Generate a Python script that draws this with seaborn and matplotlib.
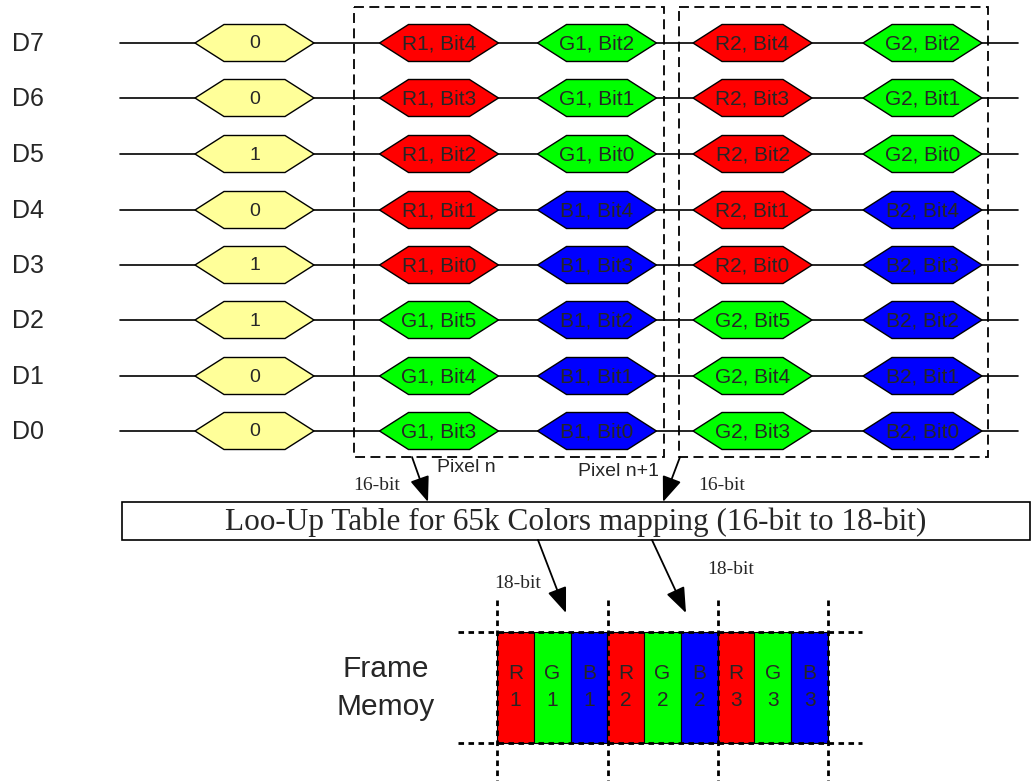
import matplotlib
matplotlib.use("Agg")
import matplotlib.pyplot as plt
from matplotlib.patches import Polygon, Rectangle
import seaborn as sns

# data
rows = ["D7", "D6", "D5", "D4", "D3", "D2", "D1", "D0"]
lead_bits = ["0", "0", "1", "0", "1", "1", "0", "0"]
pix1_a = ["R1, Bit4", "R1, Bit3", "R1, Bit2", "R1, Bit1", "R1, Bit0", "G1, Bit5", "G1, Bit4", "G1, Bit3"]
pix1_b = ["G1, Bit2", "G1, Bit1", "G1, Bit0", "B1, Bit4", "B1, Bit3", "B1, Bit2", "B1, Bit1", "B1, Bit0"]
pix2_a = ["R2, Bit4", "R2, Bit3", "R2, Bit2", "R2, Bit1", "R2, Bit0", "G2, Bit5", "G2, Bit4", "G2, Bit3"]
pix2_b = ["G2, Bit2", "G2, Bit1", "G2, Bit0", "B2, Bit4", "B2, Bit3", "B2, Bit2", "B2, Bit1", "B2, Bit0"]
mem_cells = ["R\n1", "G\n1", "B\n1", "R\n2", "G\n2", "B\n2", "R\n3", "G\n3", "B\n3"]

colors = {"R": "#ff0000", "G": "#00ff00", "B": "#0000ff", "Y": "#ffff99"}

sns.set_theme(style="white")
plt.rcParams["font.family"] = ["Liberation Sans", "DejaVu Sans"]

fig = plt.figure(figsize=(10.33, 7.81), dpi=100)
ax = fig.add_axes([0, 0, 1, 1])
ax.set_xlim(0, 1033)
ax.set_ylim(781, 0)
ax.axis("off")

row_y = [43, 98, 154, 210, 265, 320, 376, 431]
col_x = [254.5, 439, 597, 752.5, 922.5]
hw, notch, hh = 59.5, 29, 18.5


def hexagon(cx, cy, label, color, size=15):
    pts = [(cx - hw, cy), (cx - hw + notch, cy - hh), (cx + hw - notch, cy - hh),
           (cx + hw, cy), (cx + hw - notch, cy + hh), (cx - hw + notch, cy + hh)]
    ax.add_patch(Polygon(pts, closed=True, facecolor=color, edgecolor="black", lw=1.0, zorder=3))
    ax.text(cx, cy + 1, label, ha="center", va="center", fontsize=size, zorder=4)


for i, name in enumerate(rows):
    y = row_y[i]
    ax.text(12, y + 1, name, ha="left", va="center", fontsize=18)
    ax.plot([120, 1018], [y, y], color="black", lw=1.2, zorder=1)
    hexagon(col_x[0], y, lead_bits[i], colors["Y"], size=14)
    for j, labels in enumerate([pix1_a, pix1_b, pix2_a, pix2_b]):
        lab = labels[i]
        hexagon(col_x[j + 1], y, lab, colors[lab[0]])

# pixel boxes
for x0, x1 in [(354, 664), (679, 988)]:
    ax.add_patch(Rectangle((x0, 7), x1 - x0, 450, fill=False, edgecolor="black",
                           lw=1.3, linestyle=(0, (5.5, 3)), zorder=2))
ax.text(437, 468, "Pixel n", ha="left", va="center", fontsize=14)
ax.text(578, 472, "Pixel n+1", ha="left", va="center", fontsize=14)

serif = ["Liberation Serif", "DejaVu Serif"]
ax.text(353, 486, "16-bit", ha="left", va="center", fontsize=14, family=serif)
ax.text(698, 486, "16-bit", ha="left", va="center", fontsize=14, family=serif)

arrow = dict(arrowstyle="-|>,head_length=1.3,head_width=0.5", color="black", lw=1.3,
             shrinkA=0, shrinkB=0)
ax.annotate("", xy=(428, 502), xytext=(412, 457), arrowprops=arrow)
ax.annotate("", xy=(663, 502), xytext=(680, 457), arrowprops=arrow)

# LUT box
ax.add_patch(Rectangle((122, 502), 908, 38, fill=False, edgecolor="black", lw=1.2))
ax.text(576, 522, "Loo-Up Table for 65k Colors mapping (16-bit to 18-bit)",
        ha="center", va="center", fontsize=22.5, family=serif)

ax.annotate("", xy=(566, 613), xytext=(538, 540), arrowprops=arrow)
ax.annotate("", xy=(686, 613), xytext=(652, 540), arrowprops=arrow)
ax.text(494, 584, "18-bit", ha="left", va="center", fontsize=14, family=serif)
ax.text(707, 570, "18-bit", ha="left", va="center", fontsize=14, family=serif)

# frame memory
ax.text(386, 688, "Frame\nMemoy", ha="center", va="center", fontsize=21.5, linespacing=1.45)
cw = (828 - 497) / len(mem_cells)
for k, lab in enumerate(mem_cells):
    x0 = 497 + k * cw
    ax.add_patch(Rectangle((x0, 632), cw, 111, facecolor=colors[lab[0]],
                           edgecolor="black", lw=0.8, zorder=2))
    ax.text(x0 + cw / 2, 687, lab, ha="center", va="center", fontsize=15,
            linespacing=1.5, zorder=3)

dots = (0, (2, 1.6))
for yy in [632, 743]:
    ax.plot([458, 862], [yy, yy], color="black", lw=2, linestyle=dots, zorder=4)
for xx in [497, 608, 718, 828]:
    ax.plot([xx, xx], [600, 781], color="black", lw=2, linestyle=dots, zorder=4)

fig.savefig("out.png", dpi=100)
